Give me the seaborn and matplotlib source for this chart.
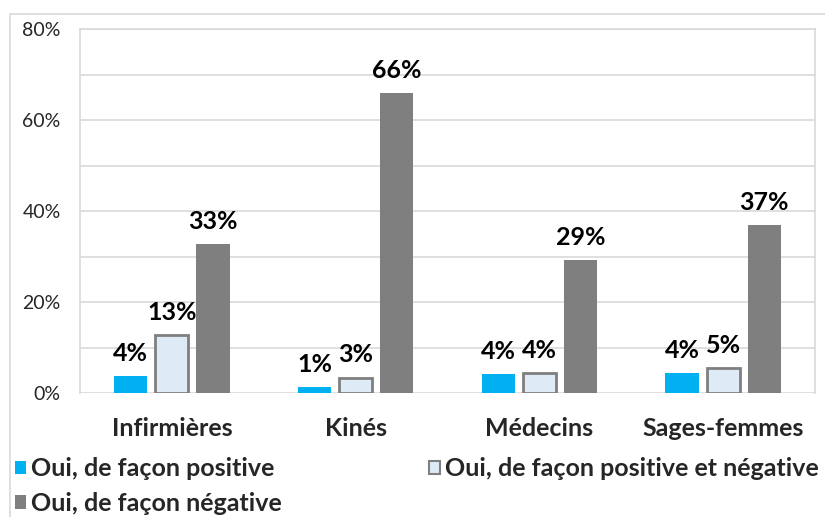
import matplotlib
matplotlib.use("Agg")
import matplotlib.pyplot as plt
from matplotlib.patches import Patch, Rectangle
import pandas as pd
import seaborn as sns

# Survey results by profession (percent)
categories = ["Infirmières", "Kinés", "Médecins", "Sages-femmes"]
series = ["Oui, de façon positive",
          "Oui, de façon positive et négative",
          "Oui, de façon négative"]
positive = [3.8, 1.4, 4.2, 4.3]
mixed = [12.7, 3.4, 4.4, 5.4]
negative = [32.8, 65.9, 29.2, 36.9]
y_ticks = [0, 20, 40, 60, 80]

colors = ["#00B0F0", "#DEEBF7", "#7F7F7F"]

df = pd.DataFrame({
    "cat": categories * 3,
    "serie": [series[0]] * 4 + [series[1]] * 4 + [series[2]] * 4,
    "val": positive + mixed + negative,
})

sns.set_theme(style="white")
plt.rcParams["font.family"] = ["Lato", "DejaVu Sans"]

fig = plt.figure(figsize=(8.25, 5.17), dpi=100)
ax = fig.add_axes([80 / 825, 1 - 393 / 517, 735 / 825, 364 / 517])

sns.barplot(data=df, x="cat", y="val", hue="serie", hue_order=series,
            order=categories, palette=colors, width=0.67, gap=0.19,
            linewidth=0, saturation=1, ax=ax, legend=False)

# outline on the mixed-answer bars
for bar in ax.containers[1]:
    bar.set_edgecolor("#7F7F7F")
    bar.set_linewidth(2)

for cont, vals in zip(ax.containers, [positive, mixed, negative]):
    ax.bar_label(cont, labels=[f"{round(v)}%" for v in vals], padding=8,
                 fontsize=18, fontweight="bold", color="black")

ax.set_ylim(0, 80)
ax.set_xlim(-0.5, 3.5)
ax.set_yticks(y_ticks)
ax.set_yticklabels([f"{t}%" for t in y_ticks], fontsize=14)
ax.set_yticks(range(10, 80, 20), minor=True)
ax.yaxis.grid(True, which="both", color="#D9D9D9", linewidth=1.2)
ax.set_axisbelow(True)
ax.tick_params(axis="y", which="both", length=0, pad=14)
ax.tick_params(axis="x", length=0, pad=17)
for lab in ax.get_xticklabels():
    lab.set_fontsize(18)
    lab.set_fontweight("bold")
ax.set_xlabel("")
ax.set_ylabel("")
for s in ax.spines.values():
    s.set_color("#D9D9D9")
    s.set_linewidth(1.2)
ax.spines["bottom"].set_visible(False)

# chart frame
fig.patches.append(Rectangle((10 / 825, -0.1), 1.2, 1.1 - 14 / 517,
                             transform=fig.transFigure, fill=False,
                             edgecolor="#D9D9D9", linewidth=1.2, zorder=0))

# legend laid out column-major: positive / negative in column 1, mixed in column 2
handles = [Patch(facecolor=colors[0], edgecolor="none"),
           Patch(facecolor=colors[2], edgecolor="none"),
           Patch(facecolor=colors[1], edgecolor="#7F7F7F", linewidth=1.5)]
labels = [series[0], series[2], series[1]]
fig.legend(handles, labels, ncol=2, loc="upper left",
           bbox_to_anchor=(-3 / 825, 1 - 440 / 517), frameon=False,
           prop={"size": 18, "weight": "bold"}, handlelength=0.45,
           handleheight=0.45, handletextpad=0.2, columnspacing=5.9,
           labelspacing=0.45, borderpad=0.2)

fig.savefig("out.png", dpi=100)
